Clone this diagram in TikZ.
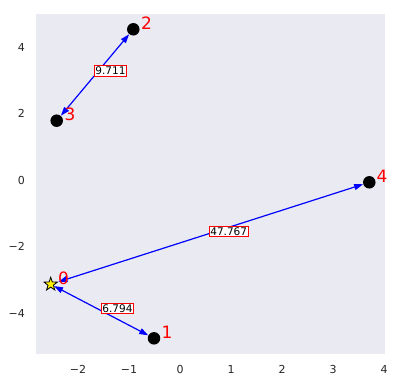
\documentclass[tikz,border=0pt]{standalone}
\usepackage{fontspec}
\setmainfont{DejaVu Sans}
\usetikzlibrary{arrows.meta,shapes.geometric}
\definecolor{plotbg}{HTML}{EAEAF2}
\definecolor{ticktext}{HTML}{262626}
\tikzset{
  vtx/.style={circle,fill=black,minimum size=12.5pt,inner sep=0pt},
  startvtx/.style={star,star points=5,star point ratio=2.5,fill=yellow,draw=black,line width=0.8pt,minimum size=14pt,inner sep=0pt},
  vlabel/.style={text=red,font=\fontsize{17}{19}\selectfont,inner sep=0pt},
  elabel/.style={fill=white,draw=red,line width=1pt,inner sep=1.2pt,font=\fontsize{10.5}{11}\selectfont,text=black},
  edge/.style={draw=blue,line width=1.2pt,{Triangle[length=9pt,width=6pt]}-{Triangle[length=9pt,width=6pt]}},
  xtick/.style={text=ticktext,font=\fontsize{11}{12}\selectfont,inner sep=0pt},
  ytick/.style={text=ticktext,font=\fontsize{11}{12}\selectfont,inner sep=0pt,anchor=east}
}
\begin{document}
\begin{tikzpicture}[x=1pt,y=-1pt]
\useasboundingbox (0,0) rectangle (399,384);
\fill[plotbg] (36,14) rectangle (385,354);
% ticks
\node[xtick] (xm2) at (78,369) {−2};
\node[xtick] (xm1) at (129,369) {−1};
\node[xtick] (x0) at (180,369) {0};
\node[xtick] (x1) at (231,369) {1};
\node[xtick] (x2) at (282,369) {2};
\node[xtick] (x3) at (333,369) {3};
\node[xtick] (x4) at (384,369) {4};
\node[ytick] (y4) at (25,47) {4};
\node[ytick] (y2) at (25,113.5) {2};
\node[ytick] (y0) at (25,180) {0};
\node[ytick] (ym2) at (25,246.5) {−2};
\node[ytick] (ym4) at (25,313) {−4};
% vertices
\node[startvtx] (n0) at (50.7,284.3) {};
\node[vtx] (n1) at (154,338.3) {};
\node[vtx] (n2) at (133.3,29.3) {};
\node[vtx] (n3) at (56.7,120.7) {};
\node[vtx] (n4) at (369.3,182.3) {};
% edges
\draw[edge] (n3) -- (n2);
\draw[edge] (n0) -- (n1);
\draw[edge] (n0) -- (n4);
% vertex labels
\node[vlabel] (l0) at (63.5,278) {0};
\node[vlabel] (l1) at (167,332) {1};
\node[vlabel] (l2) at (146.5,23) {2};
\node[vlabel] (l3) at (70,114.5) {3};
\node[vlabel] (l4) at (382,176.5) {4};
% edge labels
\node[elabel] (e32) at (110.5,71) {9.711};
\node[elabel] (e01) at (117.5,308.2) {6.794};
\node[elabel] (e04) at (228.7,231.7) {47.767};
\end{tikzpicture}
\end{document}
